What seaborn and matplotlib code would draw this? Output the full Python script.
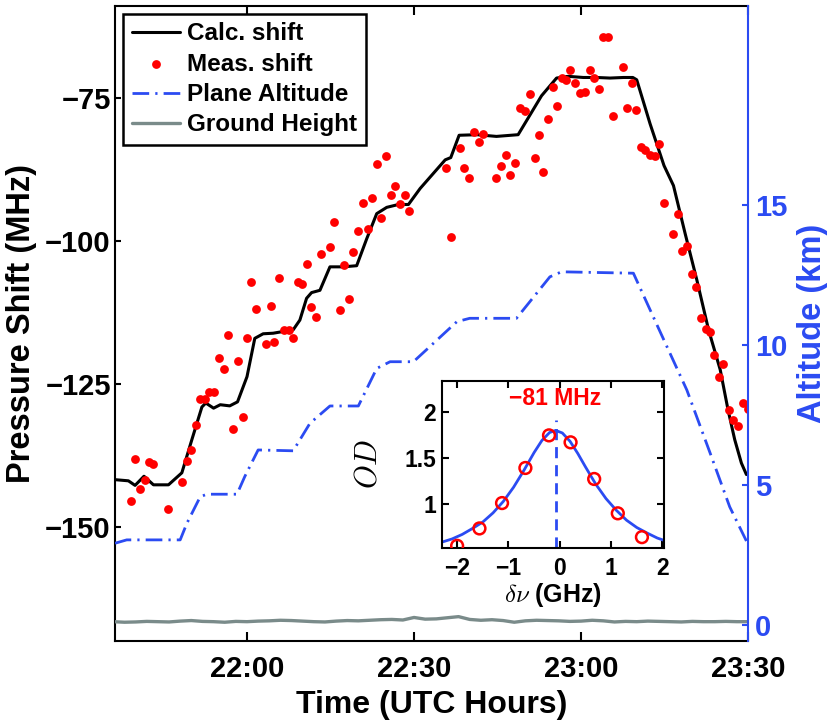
import numpy as np
import matplotlib
matplotlib.use('Agg')
import matplotlib.pyplot as plt
import seaborn as sns

# times are minutes after 22:00 UTC
calc_min = [-23.7, -21.3, -20.1, -18.5, -16.8, -14.1, -11.7, -9.9, -8.1, -7.4,
            -6.0, -4.8, -3.1, -1.7, 0.0, 1.4, 2.9, 4.7, 6.5, 8.3,
            9.5, 10.7, 11.6, 13.1, 14.9, 17.3, 19.7, 21.5, 23.3, 25.1,
            27.2, 29.0, 31.1, 35.6, 36.6, 38.1, 41.3, 44.8, 48.7, 50.8,
            52.9, 55.6, 57.7, 60.4, 62.8, 65.2, 67.6, 69.3, 70.0, 72.4,
            74.9, 76.6, 78.7, 80.8, 82.9, 85.0, 86.4, 87.6, 88.8, 89.7]
calc_shift = [-141.8, -142.0, -142.8, -141.2, -142.7, -142.7, -140.6, -134.8, -129.1, -128.4,
              -129.3, -128.7, -128.9, -128.2, -123.8, -117.1, -116.3, -116.2, -115.9, -115.6,
              -113.9, -110.1, -109.1, -108.7, -104.6, -104.6, -104.4, -99.7, -95.3, -94.2,
              -93.7, -93.7, -90.9, -85.9, -85.5, -81.6, -81.5, -81.8, -81.5, -78.1,
              -74.7, -71.6, -71.3, -71.5, -71.5, -71.6, -71.5, -71.5, -71.9, -79.6,
              -86.9, -90.4, -98.8, -106.9, -115.6, -122.6, -129.6, -134.8, -138.9, -140.9]

meas_min = [-20.9, -20.1, -19.2, -18.4, -17.6, -16.8, -14.2, -11.7, -10.8, -10.1,
            -9.2, -8.4, -7.5, -6.8, -5.9, -5.0, -4.2, -3.4, -2.6, -1.7,
            -0.8, 0.0, 0.8, 1.6, 3.4, 4.3, 4.9, 5.8, 6.6, 7.5,
            8.3, 9.1, 9.9, 10.7, 11.5, 12.4, 13.3, 14.9, 15.6, 16.7,
            17.5, 18.3, 19.1, 20.0, 20.8, 21.7, 22.5, 23.3, 24.1, 24.9,
            25.8, 26.6, 27.5, 28.3, 29.1, 35.7, 36.6, 38.3, 39.0, 39.9,
            40.8, 41.6, 42.4, 44.8, 45.7, 46.6, 47.2, 48.2, 49.0, 49.9,
            50.8, 51.7, 52.4, 53.2, 54.1, 54.9, 55.7, 56.5, 57.3, 58.1,
            59.0, 59.9, 60.7, 61.6, 62.4, 63.2, 64.0, 64.9, 65.7, 67.5,
            68.3, 69.1, 69.9, 70.7, 71.5, 72.4, 73.2, 74.0, 74.9, 76.6,
            77.4, 78.2, 79.0, 79.9, 80.7, 81.5, 82.4, 83.2, 83.9, 84.8,
            85.5, 86.6, 87.3, 88.2, 89.0, 89.9]
meas_shift = [-145.5, -138.2, -143.4, -141.9, -138.7, -139.1, -146.9, -142.2, -138.5, -136.7,
              -132.2, -127.7, -127.7, -126.5, -126.5, -120.6, -122.5, -116.5, -132.9, -121.0,
              -130.9, -117.0, -107.2, -111.9, -118.1, -111.5, -117.7, -106.5, -115.6, -115.6,
              -117.1, -107.3, -107.6, -104.1, -111.7, -113.3, -102.4, -101.2, -96.8, -112.2,
              -104.3, -110.3, -102.0, -98.4, -93.5, -98.0, -92.5, -86.7, -96.0, -85.2,
              -92.0, -90.4, -93.7, -92.1, -94.9, -87.4, -99.4, -83.8, -87.4, -89.0,
              -81.0, -82.7, -81.3, -89.0, -86.9, -85.0, -88.5, -86.5, -76.8, -77.3,
              -74.3, -85.5, -81.6, -88.1, -78.8, -73.2, -76.5, -71.6, -72.0, -70.2,
              -72.4, -74.2, -74.0, -70.2, -71.6, -73.5, -64.4, -64.4, -78.3, -69.7,
              -76.8, -72.4, -77.1, -83.7, -84.2, -85.1, -85.3, -83.1, -93.4, -98.9,
              -95.3, -101.9, -100.9, -105.9, -108.2, -113.5, -115.4, -116.0, -120.0, -123.9,
              -121.5, -129.6, -131.4, -132.4, -128.4, -129.5]

alt_min = [-23.7, -21.6, -12.0, -10.8, -8.4, -7.2, -1.8, -0.4, 2.0, 8.3,
           11.3, 14.9, 20.0, 23.3, 25.7, 29.9, 37.7, 40.0, 48.4, 54.4,
           56.5, 69.4, 73.9, 79.0, 83.2, 86.7, 89.7]
alt_km = [2.92, 3.04, 3.04, 3.63, 4.58, 4.67, 4.67, 5.30, 6.25, 6.22,
          7.20, 7.82, 7.82, 9.16, 9.40, 9.40, 10.83, 10.95, 10.95, 12.43,
          12.61, 12.56, 10.60, 8.39, 6.13, 4.22, 3.0]

ground_min = [-24, -22, -20, -18, -16, -14, -12, -10, -8, -6,
              -4, -2, 0, 2, 4, 6, 8, 10, 12, 14,
              16, 18, 20, 22, 24, 26, 28, 30, 32, 34,
              36, 38, 40, 42, 44, 46, 48, 50, 52, 54,
              56, 58, 60, 62, 64, 66, 68, 70, 72, 74,
              76, 78, 80, 82, 84, 86, 88, 90]
ground_km = [0.12, 0.10, 0.11, 0.13, 0.12, 0.11, 0.14, 0.16, 0.13, 0.12,
             0.10, 0.13, 0.12, 0.14, 0.15, 0.17, 0.16, 0.14, 0.12, 0.11,
             0.14, 0.16, 0.15, 0.17, 0.19, 0.20, 0.18, 0.27, 0.21, 0.22,
             0.26, 0.30, 0.20, 0.17, 0.19, 0.16, 0.10, 0.15, 0.17, 0.16,
             0.15, 0.13, 0.14, 0.17, 0.15, 0.11, 0.13, 0.12, 0.14, 0.13,
             0.12, 0.11, 0.13, 0.12, 0.12, 0.13, 0.12, 0.12]

time_ticks = [22.0, 22.5, 23.0, 23.5]
time_labels = ['22:00', '22:30', '23:00', '23:30']

# inset: optical depth vs detuning (GHz)
od_detuning = [-2.0, -1.565, -1.125, -0.67, -0.21, 0.21, 0.67, 1.13, 1.60]
od_meas = [0.54, 0.73, 1.007, 1.39, 1.746, 1.67, 1.27, 0.895, 0.635]
fit_detuning = [-2.3, -2.1, -1.9, -1.7, -1.5, -1.3, -1.1, -0.9, -0.7, -0.5,
                -0.35, -0.2, -0.08, 0.05, 0.2, 0.35, 0.5, 0.7, 0.9, 1.1,
                1.3, 1.5, 1.7, 1.9, 2.03]
fit_od = [0.58, 0.615, 0.665, 0.73, 0.80, 0.90, 1.025, 1.18, 1.363, 1.559,
          1.689, 1.777, 1.80, 1.772, 1.681, 1.549, 1.402, 1.214, 1.056, 0.929,
          0.82, 0.74, 0.68, 0.625, 0.60]
line_center = -0.08
line_top = 1.91
shift_label = '\u221281 MHz'

blue = '#2b4bf2'
gray = '#7a8b8a'

sns.set_theme(style='ticks')
plt.rcParams['font.family'] = ['Liberation Sans', 'DejaVu Sans']
plt.rcParams['font.weight'] = 'bold'
plt.rcParams['axes.labelweight'] = 'bold'
plt.rcParams['mathtext.fontset'] = 'cm'
for k in ['text.color', 'axes.labelcolor', 'xtick.color', 'ytick.color', 'axes.edgecolor']:
    plt.rcParams[k] = 'black'


def hours(mins):
    return 22 + np.array(mins) / 60.0


fig = plt.figure(figsize=(8.3, 7.28), dpi=100)
ax = fig.add_axes([0.1386, 0.1195, 0.7627, 0.8723])
ax2 = ax.twinx()

sns.lineplot(x=hours(calc_min), y=calc_shift, ax=ax, color='black', lw=2.2,
             label='Calc. shift', sort=False, estimator=None)
sns.scatterplot(x=hours(meas_min), y=meas_shift, ax=ax, color='red', s=40,
                linewidth=0, label='Meas. shift', zorder=3)
sns.lineplot(x=hours(alt_min), y=alt_km, ax=ax2, color=blue, lw=2,
             linestyle=(0, (6, 2.2, 0.8, 2.2)), label='Plane Altitude',
             sort=False, estimator=None)
sns.lineplot(x=hours(ground_min), y=ground_km, ax=ax2, color=gray, lw=2.4,
             label='Ground Height', sort=False, estimator=None)

for a in (ax, ax2):
    if a.get_legend() is not None:
        a.get_legend().remove()

ax.set_xlim(21.605, 23.5)
ax.set_ylim(-170, -59)
ax2.set_ylim(-0.57, 22.1)

ax.set_xticks(time_ticks, time_labels)
ax.set_yticks([-150, -125, -100, -75])
ax2.set_yticks([0, 5, 10, 15])
ax.tick_params(axis='x', top=True, direction='in', length=6.5, width=1.5,
               labelsize=21, pad=10)
ax.tick_params(axis='y', direction='in', length=4.5, width=1.5,
               labelsize=21, pad=3)
ax2.tick_params(axis='y', colors=blue, direction='in', length=4.5, width=1.5,
                labelsize=21, pad=5)

for s in ax.spines.values():
    s.set_linewidth(1.5)
    s.set_color('black')
ax.spines['right'].set_visible(False)
for s in ['left', 'top', 'bottom']:
    ax2.spines[s].set_visible(False)
ax2.spines['right'].set_color(blue)
ax2.spines['right'].set_linewidth(1.5)

ax.set_xlabel('Time (UTC Hours)', fontsize=23, fontweight='bold')
ax.set_ylabel('Pressure Shift (MHz)', fontsize=23.5, fontweight='bold')
ax2.set_ylabel('Altitude (km)', fontsize=23.5, fontweight='bold', color=blue)
ax.xaxis.set_label_coords(0.5, -0.077)
ax.yaxis.set_label_coords(-0.123, 0.5)
ax2.yaxis.set_label_coords(1.077, 0.5)

h1, l1 = ax.get_legend_handles_labels()
h2, l2 = ax2.get_legend_handles_labels()
leg = ax2.legend(h1 + h2, l1 + l2, loc='upper left', bbox_to_anchor=(0, 1),
                 borderaxespad=0.33, fontsize=17.5, frameon=True, fancybox=False,
                 edgecolor='black', framealpha=1, handlelength=2.0,
                 handletextpad=0.3, labelspacing=0.3, borderpad=0.35,
                 scatterpoints=1)
leg.get_frame().set_linewidth(1.8)

# inset
axin = fig.add_axes([0.5322, 0.2477, 0.2678, 0.229])
axin.set_facecolor('white')
sns.lineplot(x=fit_detuning, y=fit_od, ax=axin, color=blue, lw=2,
             sort=False, estimator=None)
axin.vlines(line_center, 0.52, line_top, colors=blue, lw=2,
            linestyles=(0, (4, 2.5)))
sns.scatterplot(x=od_detuning, y=od_meas, ax=axin, s=72, facecolor='none',
                edgecolor='red', linewidth=1.8, zorder=3)
axin.text(line_center - 0.02, 2.15, shift_label, color='red', fontsize=16.5,
          fontweight='bold', ha='center', va='center')
axin.set_xlim(-2.3, 2.03)
axin.set_ylim(0.52, 2.34)
axin.set_xticks([-2, -1, 0, 1, 2])
axin.set_yticks([1, 1.5, 2], ['1', '1.5', '2'])
axin.tick_params(direction='in', top=True, right=True, length=5, width=1.5,
                 labelsize=16.5)
axin.tick_params(axis='x', pad=7)
axin.tick_params(axis='y', pad=4)
for s in axin.spines.values():
    s.set_linewidth(1.5)
    s.set_color('black')
axin.set_xlabel(r'$\delta\nu$ (GHz)', fontsize=18, fontweight='bold')
axin.set_ylabel(r'$OD$', fontsize=22)
axin.xaxis.set_label_coords(0.5, -0.2)
axin.yaxis.set_label_coords(-0.26, 0.5)

fig.savefig('out.png', dpi=100)
